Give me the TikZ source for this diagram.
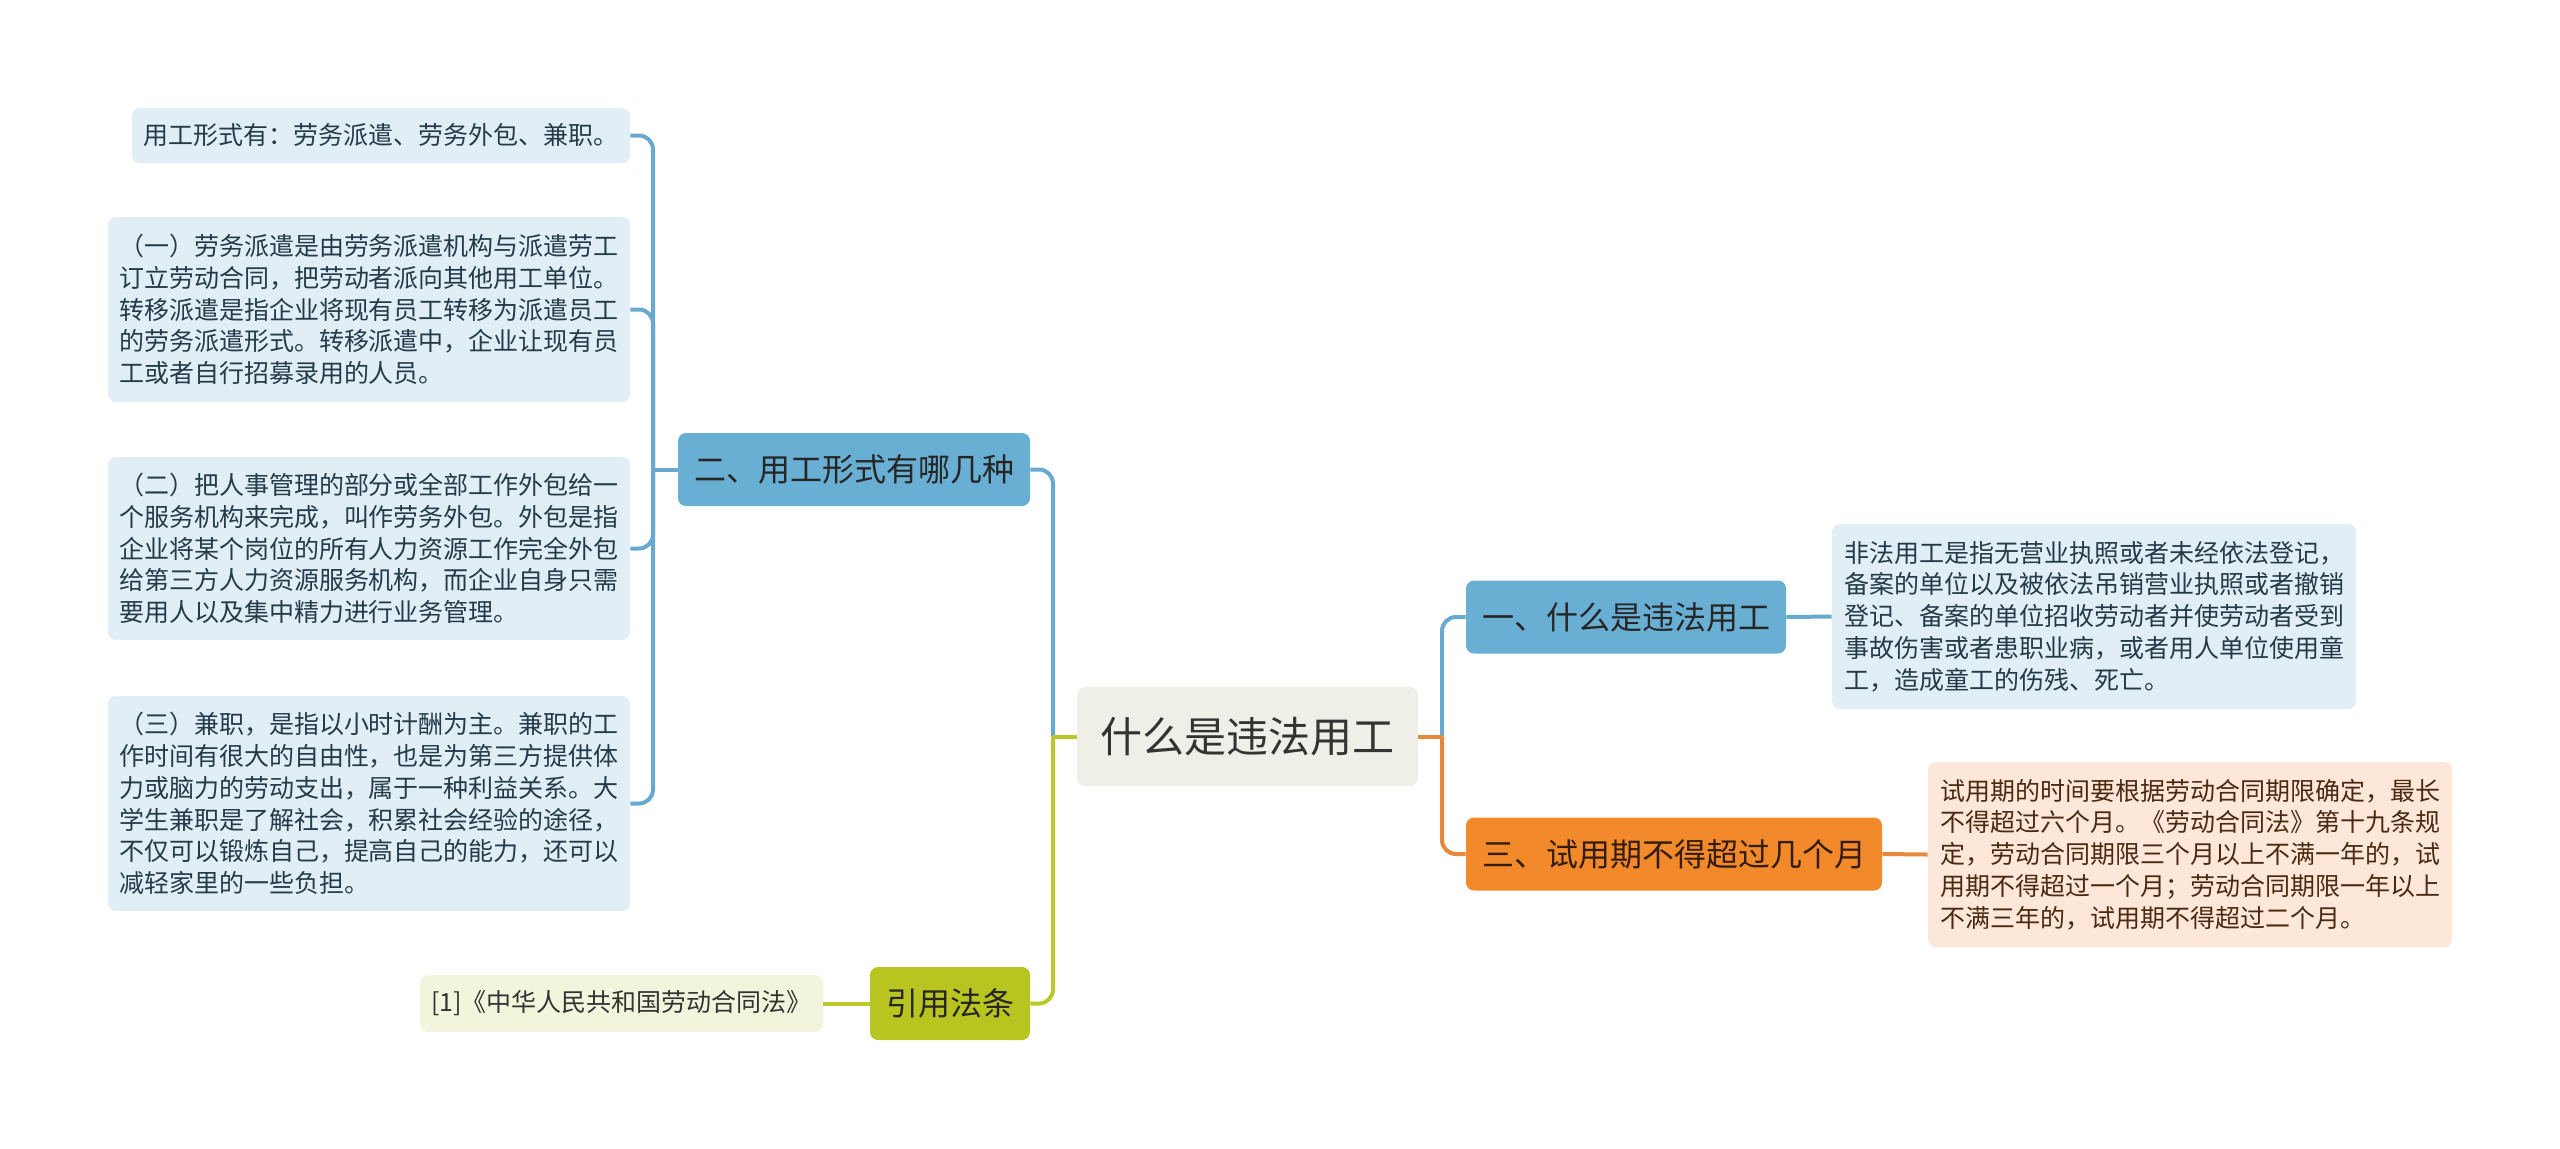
\documentclass[tikz,border=0pt]{standalone}
\usepackage{fontspec}
\setmainfont{Noto Sans CJK SC}
\definecolor{leafblue}{HTML}{E2EEF6}
\definecolor{leaftext}{HTML}{243B4A}
\definecolor{midblue}{HTML}{69AFD3}
\definecolor{lineblue}{HTML}{6AA9CF}
\definecolor{rootfill}{HTML}{EFEEE7}
\definecolor{orangeB}{HTML}{F28A2C}
\definecolor{lineorange}{HTML}{E9883A}
\definecolor{leaforange}{HTML}{FDE7D8}
\definecolor{orangetext}{HTML}{4B2A12}
\definecolor{ygreen}{HTML}{B8C420}
\definecolor{lineyg}{HTML}{BCC72A}
\definecolor{leafyg}{HTML}{F2F5DB}
\begin{document}
\begin{tikzpicture}[x=0.5pt,y=-0.5pt,
  box/.style={rectangle,rounded corners=4pt,inner sep=0pt,align=left},
  leaf/.style={box,fill=leafblue,text=leaftext,font=\fontsize{12.5}{15.9}\selectfont},
  branch/.style={box,text=black!85,font=\fontsize{16}{19}\selectfont,minimum height=36.5pt},
  conn/.style={line width=2pt,rounded corners=7pt}]
  \useasboundingbox (0,0) rectangle (2560,1148);
  % centre
  \node[box,fill=rootfill,text=black!80,font=\fontsize{21}{25}\selectfont,
    minimum width=170.5pt,minimum height=49.5pt] (root) at (1247.5,736.5) {什么是违法用工};
  % left side
  \node[branch,fill=midblue,minimum width=176pt] (twoB) at (854,469.5) {二、用工形式有哪几种};
  \node[branch,fill=ygreen,minimum width=80pt] (citeB) at (950,1003.5) {引用法条};
  \node[leaf,fill=leafyg,text=black!80,minimum width=201.5pt,minimum height=28.5pt] (lawL) at (621.5,1003.5) {[1]《中华人民共和国劳动合同法》};
  \node[leaf,minimum width=249pt,minimum height=27.5pt] (formL) at (381,135.5) {用工形式有：劳务派遣、劳务外包、兼职。};
  \node[leaf,minimum width=261pt,minimum height=92.5pt] (dispL) at (369,309.5) {（一）劳务派遣是由劳务派遣机构与派遣劳工\\
订立劳动合同，把劳动者派向其他用工单位。\\
转移派遣是指企业将现有员工转移为派遣员工\\
的劳务派遣形式。转移派遣中，企业让现有员\\
工或者自行招募录用的人员。};
  \node[leaf,minimum width=261pt,minimum height=91.5pt] (outL) at (369,548.5) {（二）把人事管理的部分或全部工作外包给一\\
个服务机构来完成，叫作劳务外包。外包是指\\
企业将某个岗位的所有人力资源工作完全外包\\
给第三方人力资源服务机构，而企业自身只需\\
要用人以及集中精力进行业务管理。};
  \node[leaf,minimum width=261pt,minimum height=107.5pt] (partL) at (369,803.5) {（三）兼职，是指以小时计酬为主。兼职的工\\
作时间有很大的自由性，也是为第三方提供体\\
力或脑力的劳动支出，属于一种利益关系。大\\
学生兼职是了解社会，积累社会经验的途径，\\
不仅可以锻炼自己，提高自己的能力，还可以\\
减轻家里的一些负担。};
  % right side
  \node[branch,fill=midblue,minimum width=160pt] (oneB) at (1626,617) {一、什么是违法用工};
  \node[branch,fill=orangeB,text=orangetext!70!black,minimum width=208pt] (threeB) at (1674,854) {三、试用期不得超过几个月};
  \node[leaf,minimum width=262pt,minimum height=92.5pt] (oneL) at (2094,616.5) {非法用工是指无营业执照或者未经依法登记，\\
备案的单位以及被依法吊销营业执照或者撤销\\
登记、备案的单位招收劳动者并使劳动者受到\\
事故伤害或者患职业病，或者用人单位使用童\\
工，造成童工的伤残、死亡。};
  \node[leaf,fill=leaforange,text=orangetext,minimum width=262pt,minimum height=92.5pt] (threeL) at (2190,854.5) {试用期的时间要根据劳动合同期限确定，最长\\
不得超过六个月。《劳动合同法》第十九条规\\
定，劳动合同期限三个月以上不满一年的，试\\
用期不得超过一个月；劳动合同期限一年以上\\
不满三年的，试用期不得超过二个月。};
  % connectors
  \coordinate (ltrunk) at (1053,736.5);
  \coordinate (rtrunk) at (1442,736.5);
  \coordinate (ctrunk) at (653,469.5);
  \draw[conn,lineblue] (twoB.east) -| (ltrunk);
  \draw[conn,lineyg] (citeB.east) -| (ltrunk);
  \draw[conn,lineyg] (ltrunk) -- (root.west);
  \draw[conn,lineyg] (citeB.west) -- (lawL.east);
  \foreach \leafname in {formL,dispL,outL,partL}
    \draw[conn,lineblue] (\leafname.east) -| (ctrunk);
  \draw[conn,lineblue] (ctrunk) -- (twoB.west);
  \draw[conn,lineblue] (rtrunk) |- (oneB.west);
  \draw[conn,lineorange] (rtrunk) |- (threeB.west);
  \draw[conn,lineorange] (root.east) -- (rtrunk);
  \draw[conn,lineblue] (oneB.east) -- (oneL.west);
  \draw[conn,lineorange] (threeB.east) -- (threeL.west);
\end{tikzpicture}
\end{document}
